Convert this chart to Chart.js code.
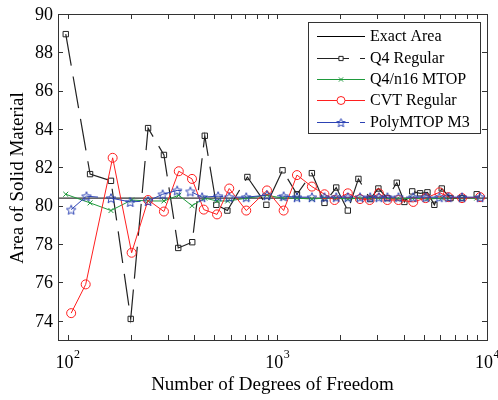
<!DOCTYPE html>
<html>
<head>
<meta charset="utf-8">
<script src="https://cdn.jsdelivr.net/npm/chart.js@4.4.0/dist/chart.umd.min.js"></script>
<style>
html, body { margin: 0; padding: 0; background: #fff; }
canvas { display: block; }
</style>
</head>
<body>
<canvas id="chart" width="498" height="400"></canvas>
<script>
// values
const exactArea = 80.4;
const exactRange = [90, 10000];

const q4Dof = [98, 128, 161, 200, 242, 288, 337, 393, 451, 512, 578, 720, 887, 1059, 1241, 1462, 1679, 1910, 2169, 2437, 2773, 3034, 3350, 3714, 4036, 4400, 4797, 5200, 5611, 6085, 6700, 7600, 8933];
const q4Area = [88.95, 81.65, 81.3, 74.1, 84.05, 82.65, 77.8, 78.1, 83.65, 80.05, 79.75, 81.5, 80.05, 81.85, 80.6, 81.7, 80.15, 80.95, 79.75, 81.4, 80.35, 80.9, 80.4, 81.2, 80.2, 80.75, 80.65, 80.7, 80.05, 80.9, 80.4, 80.4, 80.6];

const mtopDof = [98, 128, 161, 202, 242, 288, 339, 392, 451, 516, 580, 720, 893, 1059, 1241, 1462, 1679, 1910, 2169, 2437, 2773, 3034, 3714, 4400, 5200, 6085, 7600, 8933];
const mtopArea = [80.6, 80.15, 79.75, 80.3, 80.25, 80.25, 80.55, 80.0, 80.4, 80.25, 80.25, 80.4, 80.55, 80.4, 80.4, 80.35, 80.4, 80.4, 80.35, 80.4, 80.4, 80.4, 80.35, 80.4, 80.35, 80.4, 80.4, 80.4];

const cvtDof = [104, 122, 164, 202, 242, 288, 339, 392, 446, 516, 590, 711, 893, 1072, 1241, 1462, 1679, 1875, 2169, 2480, 2757, 3050, 3350, 3782, 4450, 5100, 5928, 6545, 7600, 9268];
const cvtArea = [74.4, 75.9, 82.5, 77.55, 80.3, 79.7, 81.8, 81.4, 79.8, 79.55, 80.9, 79.75, 80.8, 79.75, 81.6, 81.0, 80.6, 80.3, 80.65, 80.35, 80.3, 80.65, 80.3, 80.3, 80.2, 80.4, 80.7, 80.45, 80.4, 80.45];

const polyDof = [104, 123, 161, 199, 242, 284, 333, 385, 438, 522, 590, 711, 893, 1072, 1241, 1462, 1679, 1910, 2169, 2480, 2773, 3050, 3350, 3782, 4450, 5100, 5928, 6545, 7600, 9268];
const polyArea = [79.8, 80.5, 80.4, 80.2, 80.25, 80.6, 80.8, 80.75, 80.45, 80.5, 80.45, 80.45, 80.55, 80.5, 80.45, 80.45, 80.45, 80.45, 80.45, 80.45, 80.45, 80.45, 80.45, 80.45, 80.45, 80.45, 80.45, 80.45, 80.45, 80.45];

const yTicks = [74, 76, 78, 80, 82, 84, 86, 88, 90];
const xMajor = [100, 1000, 10000];
const xExponents = ['2', '3', '4'];
const xMinor = [200, 300, 400, 500, 600, 700, 800, 900, 2000, 3000, 4000, 5000, 6000, 7000, 8000, 9000];

const legendNames = ['Exact Area', 'Q4 Regular', 'Q4/n16 MTOP', 'CVT Regular', 'PolyMTOP M3'];

const serif = '"Liberation Serif", "Times New Roman", serif';
const colBlack = '#222222';
const colGreen = '#1f9a3c';
const colRed = '#ff1f1f';
const colBlue = '#2c42b4';
const dash = [32, 11];

function pairs(xs, ys) {
    return xs.map((x, i) => ({ x: x, y: ys[i] }));
}

function starImage(color, size, outer) {
    const c = document.createElement('canvas');
    c.width = size; c.height = size;
    const g = c.getContext('2d');
    g.strokeStyle = color;
    g.lineWidth = 1;
    g.beginPath();
    for (let i = 0; i < 10; i++) {
        const r = i % 2 ? outer * 0.45 : outer;
        const a = -Math.PI / 2 + i * Math.PI / 5;
        const x = size / 2 + r * Math.cos(a), y = size / 2 + 0.6 + r * Math.sin(a);
        if (i === 0) g.moveTo(x, y); else g.lineTo(x, y);
    }
    g.closePath();
    g.stroke();
    return c;
}
const star = starImage(colBlue, 12, 5);
const legendStar = starImage(colBlue, 11, 4.5);

const datasets = [
    {
        label: legendNames[0],
        data: exactRange.map(x => ({ x: x, y: exactArea })),
        borderColor: '#000', borderWidth: 1, pointRadius: 0, order: 5
    },
    {
        label: legendNames[1],
        data: pairs(q4Dof, q4Area),
        borderColor: colBlack, borderWidth: 1.2, borderDash: dash,
        pointStyle: 'rect', pointRadius: 3.8, pointBorderWidth: 1,
        pointBorderColor: colBlack, pointBackgroundColor: 'rgba(0,0,0,0)', order: 4
    },
    {
        label: legendNames[2],
        data: pairs(mtopDof, mtopArea),
        borderColor: colGreen, borderWidth: 1,
        pointStyle: 'crossRot', pointRadius: 3.5, pointBorderWidth: 1,
        pointBorderColor: colGreen, order: 3
    },
    {
        label: legendNames[3],
        data: pairs(cvtDof, cvtArea),
        borderColor: colRed, borderWidth: 1,
        pointStyle: 'circle', pointRadius: 4.5, pointBorderWidth: 1,
        pointBorderColor: colRed, pointBackgroundColor: 'rgba(0,0,0,0)', order: 2
    },
    {
        label: legendNames[4],
        data: pairs(polyDof, polyArea),
        borderColor: colBlue, borderWidth: 1, borderDash: dash,
        pointStyle: star, pointRadius: 5, order: 1
    }
];

// MATLAB-like box, inward ticks, labels, titles and legend
const matlabAxes = {
    id: 'matlabAxes',
    afterDraw(chart) {
        const ctx = chart.ctx;
        const a = chart.chartArea;
        const xs = chart.scales.x, ys = chart.scales.y;
        const tick = 5;
        ctx.save();
        ctx.strokeStyle = '#333';
        ctx.lineWidth = 1;
        ctx.setLineDash([]);
        ctx.strokeRect(Math.round(a.left) + 0.5, Math.round(a.top) + 0.5, Math.round(a.right - a.left), Math.round(a.bottom - a.top));

        ctx.beginPath();
        yTicks.forEach(v => {
            const y = Math.round(ys.getPixelForValue(v)) + 0.5;
            ctx.moveTo(a.left, y); ctx.lineTo(a.left + tick, y);
            ctx.moveTo(a.right, y); ctx.lineTo(a.right - tick, y);
        });
        xMajor.concat(xMinor).forEach(v => {
            const x = Math.round(xs.getPixelForValue(v)) + 0.5;
            ctx.moveTo(x, a.bottom); ctx.lineTo(x, a.bottom - tick);
            ctx.moveTo(x, a.top); ctx.lineTo(x, a.top + tick);
        });
        ctx.stroke();

        ctx.fillStyle = '#000';
        ctx.font = '18px ' + serif;
        ctx.textAlign = 'right';
        ctx.textBaseline = 'middle';
        yTicks.forEach(v => {
            ctx.fillText(String(v), a.left - 5, ys.getPixelForValue(v) + 1);
        });

        ctx.textBaseline = 'alphabetic';
        xMajor.forEach((v, i) => {
            const x = xs.getPixelForValue(v);
            ctx.font = '18px ' + serif;
            const w = ctx.measureText('10').width;
            ctx.font = '12px ' + serif;
            const ws = ctx.measureText(xExponents[i]).width;
            const left = x - (w + ws) / 2;
            ctx.textAlign = 'left';
            ctx.font = '18px ' + serif;
            ctx.fillText('10', left, 368);
            ctx.font = '12px ' + serif;
            ctx.fillText(xExponents[i], left + w + 0.5, 358);
        });

        ctx.font = '19px ' + serif;
        ctx.textAlign = 'center';
        ctx.fillText('Number of Degrees of Freedom', (a.left + a.right) / 2, 390);
        ctx.save();
        ctx.translate(23, 178);
        ctx.rotate(-Math.PI / 2);
        ctx.fillText('Area of Solid Material', 0, 0);
        ctx.restore();

        // legend
        const box = { left: 308, top: 22, right: 480, bottom: 133 };
        ctx.fillStyle = '#fff';
        ctx.fillRect(box.left, box.top, box.right - box.left, box.bottom - box.top);
        ctx.strokeStyle = '#333';
        ctx.strokeRect(box.left + 0.5, box.top + 0.5, box.right - box.left, box.bottom - box.top);
        const rowY = [36, 57.5, 79, 100, 121.5];
        const x0 = 317, x1 = 365, xm = 341;
        datasets.forEach((ds, i) => {
            const y = Math.round(rowY[i]) + 0.5;
            ctx.strokeStyle = ds.borderColor;
            ctx.lineWidth = ds.borderWidth;
            ctx.setLineDash(ds.borderDash || []);
            ctx.beginPath();
            ctx.moveTo(x0, y); ctx.lineTo(x1, y);
            ctx.stroke();
            ctx.setLineDash([]);
            ctx.lineWidth = 1;
            if (ds.pointRadius) {
                ctx.fillStyle = '#fff';
                Chart.helpers.drawPoint(ctx, {
                    pointStyle: i === 4 ? legendStar : ds.pointStyle,
                    radius: i === 3 ? 4 : 3,
                    rotation: 0,
                    borderWidth: 1
                }, xm, y);
            }
            ctx.fillStyle = '#000';
            ctx.font = '16px ' + serif;
            ctx.textAlign = 'left';
            ctx.textBaseline = 'middle';
            ctx.fillText(legendNames[i], 370, rowY[i] + 1);
        });
        ctx.restore();
    }
};

new Chart(document.getElementById('chart').getContext('2d'), {
    type: 'line',
    data: { datasets: datasets },
    options: {
        responsive: false,
        animation: false,
        parsing: false,
        layout: { padding: { top: 14, right: 11, left: 0, bottom: 0 } },
        plugins: { legend: { display: false }, tooltip: { enabled: false } },
        elements: { line: { tension: 0, fill: false } },
        scales: {
            x: {
                type: 'logarithmic', min: exactRange[0], max: exactRange[1],
                grid: { display: false }, border: { display: false },
                ticks: { display: false },
                afterFit: s => { s.height = 60; }
            },
            y: {
                type: 'linear', min: 73, max: 90,
                grid: { display: false }, border: { display: false },
                ticks: { display: false },
                afterFit: s => { s.width = 58; }
            }
        }
    },
    plugins: [matlabAxes]
});
</script>
</body>
</html>
